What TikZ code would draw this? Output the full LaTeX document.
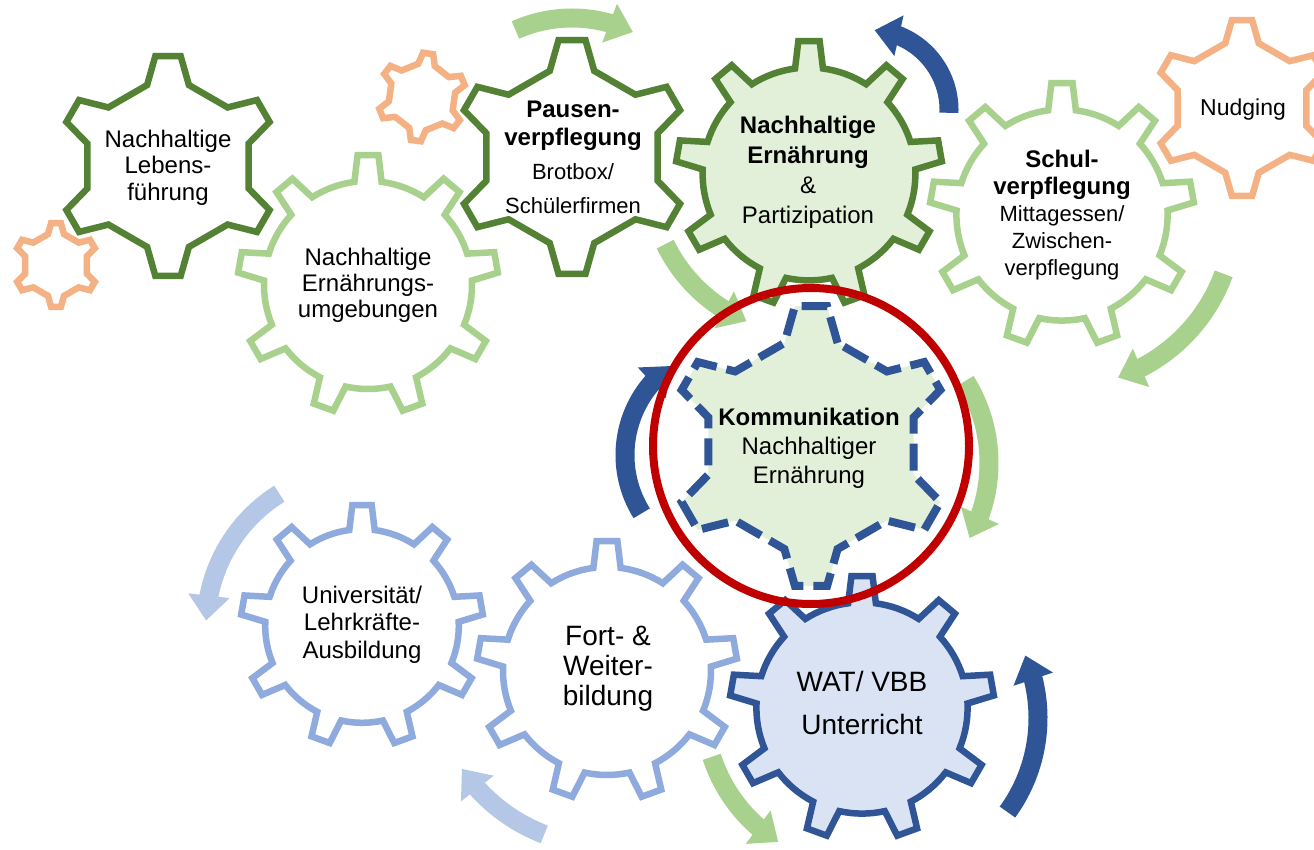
\documentclass[tikz,border=0pt]{standalone}
\usepackage{fontspec}
\setmainfont{Liberation Sans}
\usetikzlibrary{arrows.meta,bending}

\definecolor{dkgreen}{HTML}{548235}
\definecolor{ltgreen}{HTML}{A9D18E}
\definecolor{ltfill}{HTML}{E2F0D9}
\definecolor{orangeline}{HTML}{F4B183}
\definecolor{dkblue}{HTML}{2F5597}
\definecolor{midblue}{HTML}{8FAADC}
\definecolor{ltblue}{HTML}{B4C7E7}
\definecolor{bluefill}{HTML}{DAE3F3}
\definecolor{focusred}{HTML}{C00000}

% common gear parameters: teeth, outer r, base r, tip half width, base half width
\newcommand\gearsetup[5]{%
  \pgfmathsetmacro\gStep{360/(#1)}%
  \pgfmathsetmacro\gRo{#2}%
  \pgfmathsetmacro\gRi{#3}%
  \pgfmathsetmacro\gAt{atan((#4)/\gRo)}%
  \pgfmathsetmacro\gAb{asin((#5)/\gRi)}%
  \pgfmathsetmacro\gRt{\gRo/cos(\gAt)}%
  \pgfmathtruncatemacro\gLast{#1-1}%
}
% gear with round body between the teeth:
% style, x, y (downwards), teeth, outer r, base r, tip half width, base half width, first tooth angle
\newcommand\drawgearround[9]{%
  \gearsetup{#4}{#5}{#6}{#7}{#8}%
  \draw[#1,shift={(#2,-#3)}] ({#9-\gAb}:\gRi)
    \foreach \k [evaluate=\k as \gPhi using #9+\k*\gStep] in {0,...,\gLast}{
      -- ({\gPhi-\gAt}:\gRt) -- ({\gPhi+\gAt}:\gRt) -- ({\gPhi+\gAb}:\gRi)
      arc[start angle={\gPhi+\gAb}, end angle={\gPhi+\gStep-\gAb}, radius=\gRi]
    } -- cycle;
}
% gear with straight body segments between the teeth (same arguments)
\newcommand\drawgearflat[9]{%
  \gearsetup{#4}{#5}{#6}{#7}{#8}%
  \draw[#1,shift={(#2,-#3)}] ({#9-\gAb}:\gRi)
    \foreach \k [evaluate=\k as \gPhi using #9+\k*\gStep] in {0,...,\gLast}{
      -- ({\gPhi-\gAb}:\gRi) -- ({\gPhi-\gAt}:\gRt) -- ({\gPhi+\gAt}:\gRt) -- ({\gPhi+\gAb}:\gRi)
    } -- cycle;
}
\newcommand\gearsix[5]{\drawgearflat{#1}{#2}{#3}{6}{#4}{0.76*#4}{0.115*#4}{0.19*#4}{#5}}
\newcommand\gearnine[4]{\drawgearround{#1}{#2}{#3}{9}{#4}{0.80*#4}{0.08*#4}{0.105*#4}{90}}

% curved block arrow: colour, centre x, centre y (downwards), radius, start, end
\newcommand\ringarrow[6]{%
  \draw[circarrow,#1] (#2,-#3) ++(#5:#4) arc[start angle=#5, end angle=#6, radius=#4];}

\tikzset{
  circarrow/.style={line width=19pt, -{Triangle[width=40pt,length=25pt]}},
  gearline/.style={line width=6.5pt, line join=miter, miter limit=6},
  lbl/.style={align=center, inner sep=0pt, text=black},
}

\begin{document}
\begin{tikzpicture}[x=1pt,y=1pt]
\useasboundingbox (0,0) rectangle (1314,-850);
\fill[white] (0,0) rectangle (1314,-850);

% rotating arrows
\ringarrow{ltgreen}{572}{157}{139}{114}{64}
\ringarrow{dkblue}{869}{110}{80}{-2}{86}
\ringarrow{ltgreen}{1062}{215}{172}{-20}{-71}
\ringarrow{ltgreen}{809}{174}{160}{206}{247}
\ringarrow{ltgreen}{834}{463}{155}{32}{-29}
\ringarrow{dkblue}{735}{455}{110}{212}{126}
\ringarrow{dkblue}{878}{718}{160}{-36}{23}
\ringarrow{ltgreen}{862}{708}{158}{198}{238}
\ringarrow{ltblue}{607}{671}{175}{249}{214}
\ringarrow{ltblue}{362}{626}{156}{122}{178}

% gears
\gearnine{gearline, draw=ltgreen, fill=white}{368}{285}{130}
\gearsix{gearline, draw=dkgreen, fill=white}{168}{166}{110}{90}
\gearsix{gearline, draw=orangeline, fill=white}{56}{265}{42}{90}
\gearsix{gearline, draw=orangeline, fill=white}{422}{97}{44}{82}
\gearsix{gearline, draw=dkgreen, fill=white}{572}{157}{117}{90}
\gearnine{gearline, draw=dkgreen, fill=ltfill}{809}{174}{133}
\gearnine{gearline, draw=ltgreen, fill=white}{1062}{215}{132}
\gearsix{gearline, draw=orangeline, fill=white}{1242}{108}{88}{90}
\gearnine{gearline, draw=midblue, fill=white}{362}{626}{121}
\gearnine{gearline, draw=midblue, fill=white}{607}{671}{130}
\gearsix{line width=8pt, line join=miter, draw=dkblue, fill=ltfill, dash pattern=on 27pt off 10pt}{811}{446}{140}{90}
\gearnine{gearline, draw=dkblue, fill=bluefill}{862}{708}{132}

% highlight ring
\draw[focusred, line width=8pt] (811,-446) circle[radius=158];

% labels
\node[lbl, font={\fontsize{24}{26.5}\selectfont}] (lebens) at (168,-167.3) {Nachhaltige\\Lebens-\\führung};
\node[lbl, font={\fontsize{24}{26}\selectfont}] (umgebung) at (368,-284.8) {Nachhaltige\\Ernährungs-\\umgebungen};
\node[lbl, font={\fontsize{24}{28}\selectfont}] (pause) at (573,-157) {\textbf{Pausen-}\\\textbf{verpflegung}\\[6pt]{\fontsize{22}{28}\selectfont Brotbox/}\\[6pt]{\fontsize{22}{28}\selectfont Schülerfirmen}};
\node[lbl, font={\fontsize{24}{30}\selectfont}] (partizip) at (808,-171.8) {\textbf{Nachhaltige}\\\textbf{Ernährung}\\\&\\Partizipation};
\node[lbl, font={\fontsize{24}{27}\selectfont}] (schul) at (1062,-214.6) {\textbf{Schul-}\\\textbf{verpflegung}\\{\fontsize{22}{27}\selectfont Mittagessen/}\\{\fontsize{22}{27}\selectfont Zwischen-}\\{\fontsize{22}{27}\selectfont verpflegung}};
\node[lbl, font={\fontsize{23}{27}\selectfont}] (nudging) at (1243,-110) {Nudging};
\node[lbl, font={\fontsize{24}{29}\selectfont}] (komm) at (809,-447.8) {\textbf{Kommunikation}\\Nachhaltiger\\Ernährung};
\node[lbl, font={\fontsize{28}{43}\selectfont}] (wat) at (862,-703.3) {WAT/ VBB\\Unterricht};
\node[lbl, font={\fontsize{28}{30}\selectfont}] (fort) at (608,-668.3) {Fort- \&\\Weiter-\\bildung};
\node[lbl, font={\fontsize{24}{27.5}\selectfont}] (uni) at (362,-624.3) {Universität/\\Lehrkräfte-\\Ausbildung};
\end{tikzpicture}
\end{document}
